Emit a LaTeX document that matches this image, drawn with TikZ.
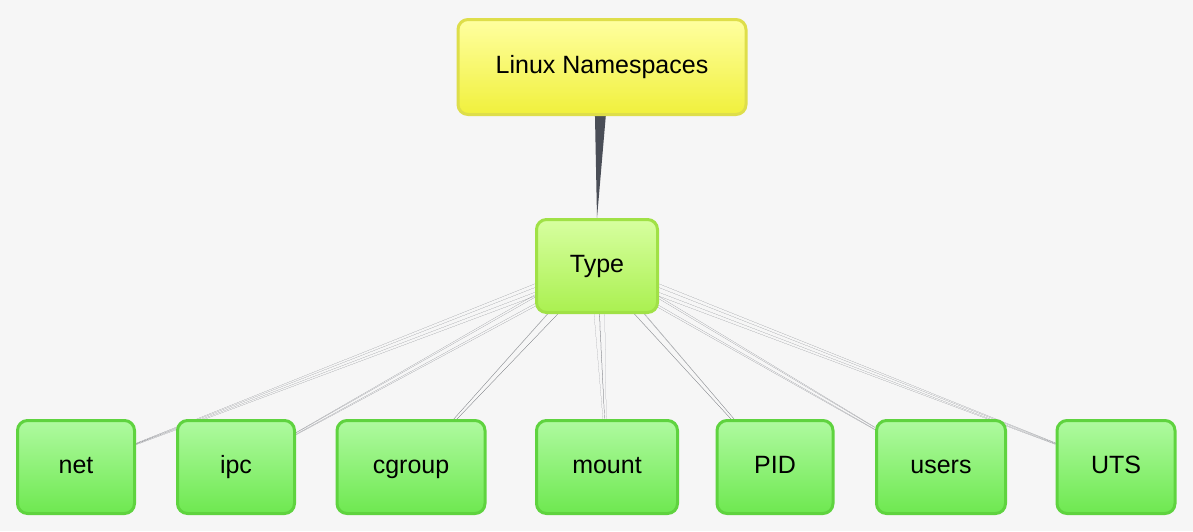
\documentclass[tikz,border=0pt]{standalone}
\usepackage{fontspec}
\setmainfont{Liberation Sans}
\usetikzlibrary{calc,backgrounds}
\definecolor{bg}{HTML}{F6F6F6}
\definecolor{con}{HTML}{4A4E57}
\tikzset{
 box/.style={rounded corners=10pt,line width=3pt,minimum height=93pt,font=\fontsize{25}{30}\selectfont,text=black,text height=18pt,text depth=5pt},
 yel/.style={box,draw={rgb,255:red,222;green,222;blue,74},top color={rgb,255:red,255;green,255;blue,160},bottom color={rgb,255:red,240;green,240;blue,60}},
 lgr/.style={box,draw={rgb,255:red,160;green,225;blue,70},top color={rgb,255:red,215;green,255;blue,160},bottom color={rgb,255:red,170;green,240;blue,80}},
 grn/.style={box,draw={rgb,255:red,95;green,211;blue,63},top color={rgb,255:red,175;green,250;blue,160},bottom color={rgb,255:red,110;green,232;blue,80}},
}
\newcommand{\taper}[2]{%
 \fill[con] ($(#1.center)+(-7,0)$) -- (#2) -- ($(#1.center)+(7,0)$) -- cycle;
 \fill[con] ($(#1.center)+(0,-7)$) -- (#2) -- ($(#1.center)+(0,7)$) -- cycle;}
\begin{document}
\begin{tikzpicture}[x=1pt,y=-1pt]
\useasboundingbox (0,0) rectangle (1193,531);
\node[yel,minimum width=288pt,minimum height=95pt] (L) at (602,67) {Linux Namespaces};
\node[lgr,minimum width=121pt] (T) at (597,266) {Type};
\node[grn,minimum width=117pt] (net) at (76,467) {net};
\node[grn,minimum width=117pt] (ipc) at (236,467) {ipc};
\node[grn,minimum width=148pt] (cg) at (411,467) {cgroup};
\node[grn,minimum width=141pt] (mnt) at (607,467) {mount};
\node[grn,minimum width=116pt] (pid) at (775,467) {PID};
\node[grn,minimum width=129pt] (usr) at (941,467) {users};
\node[grn,minimum width=118pt] (uts) at (1116,467) {UTS};
\begin{scope}[on background layer]
\fill[bg] (0,0) rectangle (1193,531);
\fill[con] ($(L.center)+(-8,0)$) -- ($(L.center)+(8,0)$) -- (T.north) -- cycle;
\foreach \c in {net,ipc,cg,mnt,pid,usr,uts}{\taper{T}{\c}}
\end{scope}
\end{tikzpicture}
\end{document}
